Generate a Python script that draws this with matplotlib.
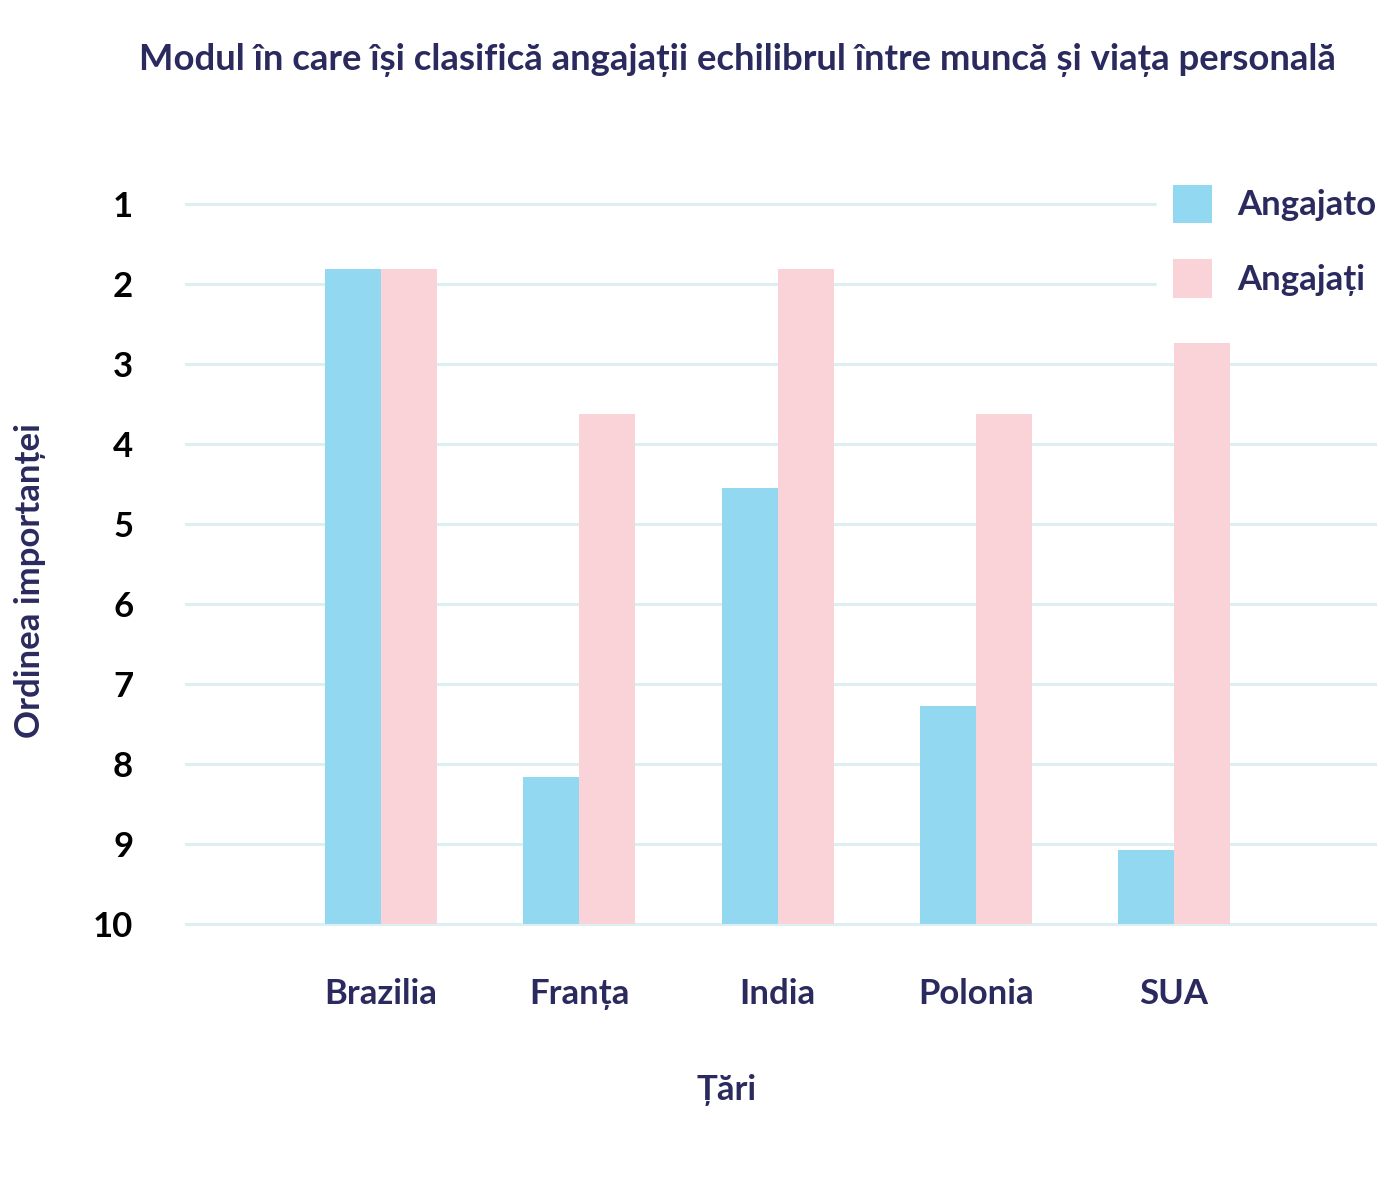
import numpy as np
import matplotlib
import matplotlib.pyplot as plt

matplotlib.use('Agg')

tari = ['Brazilia', 'Franța', 'India', 'Polonia', 'SUA']
angajatori = [1.81, 8.16, 4.55, 7.27, 9.08]
angajati = [1.81, 3.62, 1.81, 3.62, 2.74]
y_ticks = list(range(1, 11))

NAVY = '#2B2A5E'
BLUE = '#91D8F0'
PINK = '#FAD3D8'
GRID = '#DCF0F4'

plt.rcParams['font.family'] = ['Lato', 'DejaVu Sans']
FS = 25
WT = 'bold'

fig = plt.figure(figsize=(13.77, 11.82), dpi=100)
ax = fig.add_axes([186 / 1377, 1 - 924 / 1182, 1 - 186 / 1377, (924 - 204) / 1182])

x = np.arange(len(tari))
w = 0.2825
ax.bar(x - w / 2, [10 - v for v in angajatori], bottom=angajatori, width=w,
       color=BLUE, label='Angajatori', zorder=2)
ax.bar(x + w / 2, [10 - v for v in angajati], bottom=angajati, width=w,
       color=PINK, label='Angajați', zorder=2)

ax.set_ylim(10, 1)
ax.set_xlim(-0.984, 5.024)
ax.set_yticks(y_ticks)
ax.set_yticklabels([str(t) for t in y_ticks], fontsize=FS, fontweight=WT, color='black')
ax.set_xticks(x)
ax.set_xticklabels(tari, fontsize=FS, fontweight=WT, color=NAVY)
ax.tick_params(axis='y', length=0, pad=38)
ax.tick_params(axis='x', length=0, pad=39)
for y in y_ticks:
    ax.axhline(y, color=GRID, linewidth=2.2, zorder=1, clip_on=False)
for s in ax.spines.values():
    s.set_visible(False)

fig.text(727 / 1377, 1 - 1090 / 1182, 'Țări', ha='center', va='center',
         fontsize=FS, fontweight=WT, color=NAVY)
fig.text(30 / 1377, 1 - 581 / 1182, 'Ordinea importanței', ha='center', va='center',
         rotation=90, fontsize=FS, fontweight=WT, color=NAVY)

fig.text(737 / 1377, 1 - 60 / 1182,
         'Modul în care își clasifică angajații echilibrul între muncă și viața personală',
         ha='center', va='center', fontsize=26.3, fontweight=WT, color=NAVY)

leg = ax.legend(loc='upper left', bbox_to_anchor=(1157 / 1377, 1 - 169 / 1182),
                bbox_transform=fig.transFigure, frameon=True, fancybox=False,
                edgecolor='white', facecolor='white', framealpha=1,
                fontsize=FS, handlelength=1.12, handleheight=1.32,
                labelspacing=1.05, handletextpad=0.75, borderpad=0.45, borderaxespad=0)
for t in leg.get_texts():
    t.set_color(NAVY)
    t.set_fontweight(WT)
leg.set_zorder(5)

fig.savefig('out.png', dpi=100)
